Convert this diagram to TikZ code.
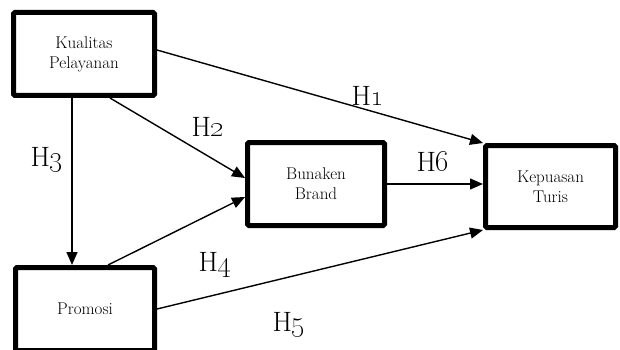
\documentclass[tikz,border=0pt]{standalone}
\usetikzlibrary{arrows.meta}
\begin{document}
\begin{tikzpicture}[x=1pt,y=-1pt,
  varbox/.style={draw,line width=5pt,fill=white,align=center,rounded corners=1.5pt,
    font=\fontsize{17}{20}\selectfont,inner sep=0pt},
  link/.style={line width=1.4pt,-{Triangle[length=13pt,width=11pt]}},
  hyp/.style={font=\fontsize{28}{30}\selectfont,inner sep=0pt}]
\useasboundingbox (0,0) rectangle (620,350);
% variables
\node[varbox,minimum width=141pt,minimum height=83pt] (kp) at (84,54) {Kualitas\\Pelayanan};
\node[varbox,minimum width=137pt,minimum height=83pt] (bb) at (316,184) {Bunaken\\Brand};
\node[varbox,minimum width=130pt,minimum height=82pt] (kt) at (550.5,186.5) {Kepuasan\\Turis};
\node[varbox,minimum width=139pt,minimum height=83pt] (pr) at (85,309) {Promosi};
% hypothesised paths
\draw[link] ([yshift=4pt]kp.east) -- (kt.north west);
\draw[link] ([xshift=26pt]kp.south) -- ([yshift=6pt]bb.west);
\draw[link] ([xshift=-12pt]kp.south) -- ([xshift=-13pt]pr.north);
\draw[link] ([xshift=23pt]pr.north) -- ([yshift=-13pt]bb.west);
\draw[link] (pr.east) -- (kt.south west);
\draw[link] (bb.east) -- (bb.east -| kt.west);
% path labels
\node[hyp] (h1) at (368,96) {H\oldstylenums{1}};
\node[hyp] (h2) at (208,127) {H\oldstylenums{2}};
\node[hyp] (h3) at (47,160) {H\oldstylenums{3}};
\node[hyp] (h4) at (215,265) {H\oldstylenums{4}};
\node[hyp] (h5) at (289,325) {H\oldstylenums{5}};
\node[hyp] (h6) at (433,162) {H\oldstylenums{6}};
\end{tikzpicture}
\end{document}
